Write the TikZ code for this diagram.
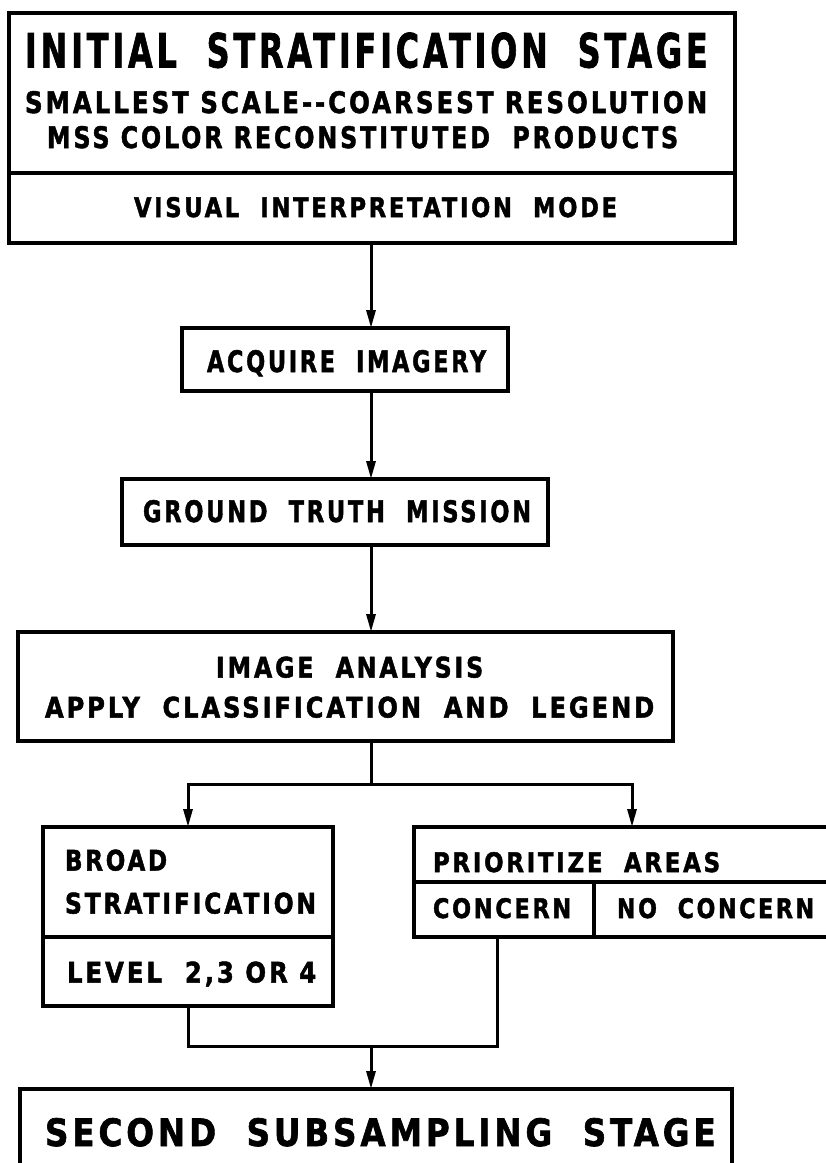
\documentclass[tikz,border=0pt]{standalone}
\usepackage{fontspec}
\setmainfont{DejaVu Sans}[BoldFeatures={FakeBold=1.8}]
\usetikzlibrary{arrows.meta}
% hand-lettered lines: bold, spaced out, then scaled to a given width and cap height
\newcommand\lettering[3]{\resizebox{#1pt}{#2pt}{\bfseries\addfontfeatures{LetterSpace=12}#3\kern-0.05em}}

\begin{document}
\begin{tikzpicture}[x=1pt,y=-1pt,
  box/.style={draw, line width=3.3pt, inner sep=0pt, outer sep=0pt},
  rule/.style={line width=3.3pt},
  link/.style={line width=3pt},
  arr/.style={link, -{Triangle[width=9pt,length=18pt]}},
  txt/.style={inner sep=0pt, outer sep=0pt, anchor=base west}]

\path[use as bounding box] (0,0) rectangle (826,1163);
\clip (0,0) rectangle (826,1163);

% boxes
\node[box, minimum width=726pt, minimum height=230pt] (top)   at (372,128)    {};
\node[box, minimum width=326pt, minimum height=63pt]  (acq)   at (345,359.5)  {};
\node[box, minimum width=426pt, minimum height=66pt]  (gt)    at (335,512)    {};
\node[box, minimum width=655pt, minimum height=109pt] (img)   at (345.5,686.5){};
\node[box, minimum width=290pt, minimum height=179pt] (broad) at (188,916.5)  {};
\node[box, minimum width=436pt, minimum height=110pt] (prior) at (632,882)    {};
\node[box, minimum width=712pt, minimum height=101pt] (final) at (376,1139.5) {};

% inner dividers
\draw[rule] (9,173) -- (735,173);
\draw[rule] (43,937) -- (333,937);
\draw[rule] (414,882) -- (850,882);
\draw[rule] (594,882) -- (594,937);

% texts
\node[txt] (t1)  at (25,67.5)  {\lettering{681}{35}{INITIAL\ \ STRATIFICATION\ \ STAGE}};
\node[txt] (t2)  at (25,113)   {\lettering{681}{22}{SMALLEST SCALE-{}-COARSEST RESOLUTION}};
\node[txt] (t3)  at (47,148)   {\lettering{630}{22}{MSS COLOR RECONSTITUTED\ \ PRODUCTS}};
\node[txt] (t4)  at (134,217)  {\lettering{482}{20}{VISUAL\ \ INTERPRETATION\ \ MODE}};
\node[txt] (t5)  at (207,372)  {\lettering{278}{22}{ACQUIRE\ \ IMAGERY}};
\node[txt] (t6)  at (143,522)  {\lettering{387}{22}{GROUND\ \ TRUTH\ \ MISSION}};
\node[txt] (t7)  at (216,677.5){\lettering{266}{21}{IMAGE\ \ ANALYSIS}};
\node[txt] (t8)  at (45,717.5) {\lettering{608}{21}{APPLY\ \ CLASSIFICATION\ \ AND\ \ LEGEND}};
\node[txt] (t9)  at (65,870.5) {\lettering{101}{21}{BROAD}};
\node[txt] (t10) at (65,913.5) {\lettering{250}{21}{STRATIFICATION}};
\node[txt] (t11) at (67,982.5) {\lettering{248}{21}{LEVEL\ \ 2,3 OR 4}};
\node[txt] (t12) at (433,872)  {\lettering{286}{20}{PRIORITIZE\ \ AREAS}};
\node[txt] (t13) at (433,918)  {\lettering{137}{20}{CONCERN}};
\node[txt] (t14) at (617,918)  {\lettering{196}{20}{NO\ \ CONCERN}};
\node[txt] (t15) at (45,1146)  {\lettering{669}{28}{SECOND\ \ SUBSAMPLING\ \ STAGE}};

% connectors
\coordinate (mid)   at (371,0);
\coordinate (split) at (371,784);
\coordinate (join)  at (371,1046);
\coordinate (conc)  at (497,937);

\draw[arr] (top.south -| mid) -- (acq.north -| mid);
\draw[arr] (acq.south -| mid) -- (gt.north -| mid);
\draw[arr] (gt.south -| mid)  -- (img.north -| mid);
\draw[link] (img.south -| mid) -- (split);
\draw[arr] (split) -| (broad.north);
\draw[arr] (split) -| (prior.north);
\draw[link] (broad.south) |- (join);
\draw[link] (conc) |- (join);
\draw[arr] (join) -- (final.north -| join);
\end{tikzpicture}
\end{document}
